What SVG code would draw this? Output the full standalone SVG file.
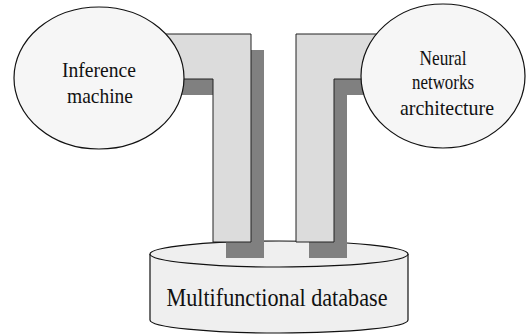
<svg xmlns="http://www.w3.org/2000/svg" width="526" height="336" viewBox="0 0 526 336">
<style>
.shadow{fill:#808080;stroke:none}
.pipe{fill:#dcdcdc;stroke:#222;stroke-width:1}
.node{fill:#f6f6f6;stroke:#111;stroke-width:1.2}
.db{fill:#efefef;stroke:#111;stroke-width:1.2}
.t{font-family:"Liberation Serif","DejaVu Serif",serif;fill:#111;text-anchor:middle}
</style>
<rect width="526" height="336" fill="#fff"/>
<g id="database">
<path class="db" d="M150,254 L150,320 A129,13 0 0 0 408,320 L408,254 A129,13 0 0 0 150,254 Z"/>
<path class="db" d="M150,254 A129,13 0 0 0 408,254" fill="none"/>
<text class="t" x="277" y="306" font-size="26" textLength="221" lengthAdjust="spacingAndGlyphs">Multifunctional database</text>
</g>
<g id="connectors">
<polygon class="shadow" points="163,50 264,50 264,258 226,258 226,95 163,95"/>
<polygon class="pipe" points="150,34 251,34 251,242 213,242 213,79 150,79"/>
<polygon class="shadow" points="309,50 413,50 413,95 347,95 347,258 309,258"/>
<polygon class="pipe" points="296,34 400,34 400,79 334,79 334,242 296,242"/>
</g>
<g id="inference">
<ellipse class="node" cx="99" cy="78" rx="85" ry="71"/>
<text class="t" x="99" y="77" font-size="22" textLength="74" lengthAdjust="spacingAndGlyphs">Inference</text>
<text class="t" x="100" y="103" font-size="22" textLength="66" lengthAdjust="spacingAndGlyphs">machine</text>
</g>
<g id="neural">
<ellipse class="node" cx="443" cy="76" rx="82" ry="72"/>
<text class="t" x="443" y="65" font-size="22" textLength="47" lengthAdjust="spacingAndGlyphs">Neural</text>
<text class="t" x="443" y="89" font-size="22" textLength="62" lengthAdjust="spacingAndGlyphs">networks</text>
<text class="t" x="447" y="115" font-size="22" textLength="94" lengthAdjust="spacingAndGlyphs">architecture</text>
</g>
</svg>
